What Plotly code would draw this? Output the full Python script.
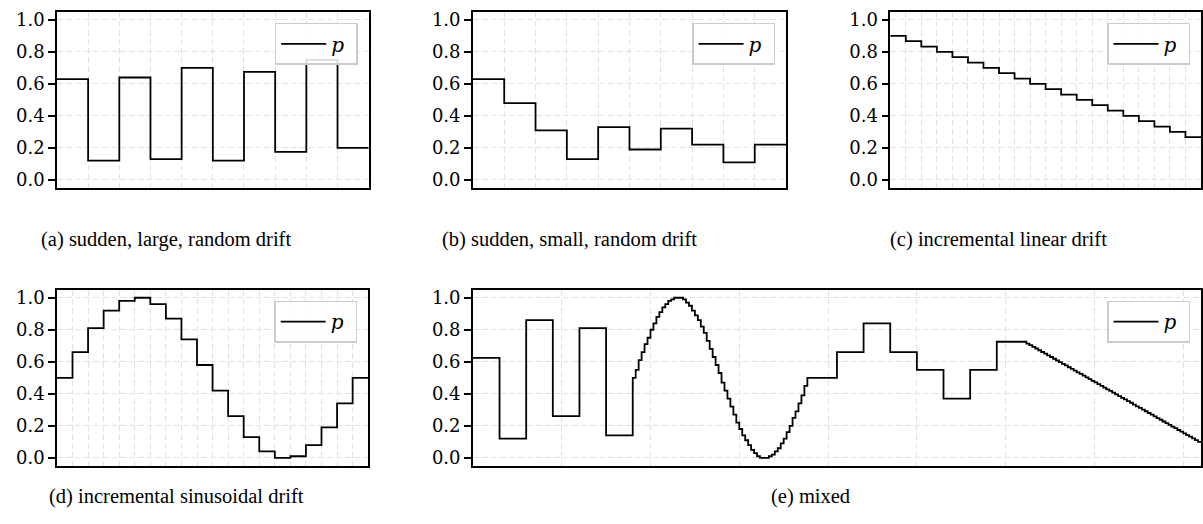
import numpy as np
import plotly.graph_objects as go

# ---------------- data ----------------
a_vals = [0.63, 0.12, 0.64, 0.13, 0.70, 0.12, 0.675, 0.175, 0.75, 0.20]
b_vals = [0.63, 0.48, 0.31, 0.13, 0.33, 0.19, 0.32, 0.22, 0.11, 0.22]
c_vals = [0.900, 0.867, 0.833, 0.800, 0.767, 0.733, 0.700, 0.667, 0.633, 0.600,
          0.567, 0.533, 0.500, 0.467, 0.433, 0.400, 0.367, 0.333, 0.300, 0.267]
d_vals = [0.50, 0.66, 0.81, 0.92, 0.98, 1.00, 0.96, 0.87, 0.74, 0.58,
          0.42, 0.26, 0.13, 0.04, 0.00, 0.01, 0.08, 0.19, 0.34, 0.50]

# mixed panel: pieces with their step durations
e_sudden1 = [0.625, 0.12, 0.86, 0.26, 0.81, 0.14]
e_sine = [0.50, 0.55, 0.61, 0.66, 0.71, 0.75, 0.80, 0.84, 0.88, 0.91,
          0.94, 0.96, 0.98, 0.99, 1.00, 1.00, 1.00, 0.99, 0.97, 0.95,
          0.92, 0.89, 0.86, 0.82, 0.78, 0.73, 0.68, 0.63, 0.58, 0.53,
          0.47, 0.42, 0.37, 0.32, 0.27, 0.22, 0.18, 0.14, 0.11, 0.08,
          0.05, 0.03, 0.01, 0.00, 0.00, 0.00, 0.01, 0.02, 0.04, 0.06,
          0.09, 0.12, 0.16, 0.20, 0.25, 0.29, 0.34, 0.39, 0.45, 0.50]
e_sudden2 = [0.50, 0.66, 0.84, 0.66, 0.55, 0.37, 0.55, 0.725]
e_linear = [0.725, 0.714, 0.704, 0.693, 0.683, 0.672, 0.661, 0.651, 0.640, 0.630,
            0.619, 0.608, 0.598, 0.587, 0.577, 0.566, 0.556, 0.545, 0.534, 0.524,
            0.513, 0.503, 0.492, 0.481, 0.471, 0.460, 0.450, 0.439, 0.428, 0.418,
            0.407, 0.397, 0.386, 0.375, 0.365, 0.354, 0.344, 0.333, 0.322, 0.312,
            0.301, 0.291, 0.280, 0.270, 0.259, 0.248, 0.238, 0.227, 0.217, 0.206,
            0.195, 0.185, 0.174, 0.164, 0.153, 0.142, 0.132, 0.121, 0.111, 0.100]
e_sudden_len = 300
e_small_len = 2000 / 60

captions = ["(a) sudden, large, random drift",
            "(b) sudden, small, random drift",
            "(c) incremental linear drift",
            "(d) incremental sinusoidal drift",
            "(e) mixed"]
y_ticks = [0.0, 0.2, 0.4, 0.6, 0.8, 1.0]

# ---------------- layout helpers ----------------
W, H = 1203, 524

def xdom(l, r):
    return [l / W, r / W]

def ydom(t, b):
    return [1 - b / H, 1 - t / H]

panels = [
    dict(x=xdom(57, 369), y=ydom(9, 186.7)),
    dict(x=xdom(473.3, 786.7), y=ydom(9, 186.7)),
    dict(x=xdom(891, 1202), y=ydom(9, 186.7)),
    dict(x=xdom(57, 368.5), y=ydom(289.5, 467.3)),
    dict(x=xdom(473.3, 1202), y=ydom(289.5, 467.3)),
]

def steps(vals, lens):
    x = np.concatenate([[0], np.cumsum(lens)])
    y = list(vals) + [vals[-1]]
    return x, y

series = []
for v in (a_vals, b_vals, c_vals, d_vals):
    series.append(steps(v, [1] * len(v)))
e_all = e_sudden1 + e_sine + e_sudden2 + e_linear
e_lens = ([e_sudden_len] * len(e_sudden1) + [e_small_len] * len(e_sine)
          + [e_sudden_len] * len(e_sudden2) + [e_small_len] * len(e_linear))
series.append(steps(e_all, e_lens))

fig = go.Figure()
tick_font = dict(family="DejaVu Serif", size=18, color="black")
grid_col = "#e2e2e2"
grid_dash = "6px,3px"

for i, ((x, y), p) in enumerate(zip(series, panels)):
    n = i + 1
    sfx = "" if n == 1 else str(n)
    leg = "legend" if n == 1 else f"legend{n}"
    fig.add_trace(go.Scatter(
        x=x, y=y, mode="lines", line=dict(color="black", width=1.8, shape="hv"),
        name="<i>p</i> ", xaxis=f"x{sfx}", yaxis=f"y{sfx}", legend=leg,
        showlegend=True, hoverinfo="skip"))
    xmax = x[-1]
    fig.layout[f"xaxis{sfx}"] = dict(
        domain=p["x"], anchor=f"y{sfx}", range=[0, xmax],
        tick0=0, dtick=(1000 if n == 5 else 1),
        showticklabels=False, ticks="", showgrid=True,
        gridcolor=grid_col, griddash=grid_dash, gridwidth=1,
        showline=True, linecolor="black", linewidth=1.5, mirror=True,
        zeroline=False, fixedrange=True)
    fig.layout[f"yaxis{sfx}"] = dict(
        domain=p["y"], anchor=f"x{sfx}", range=[-0.05, 1.05],
        tickvals=y_ticks, tickformat=".1f", ticks="outside", ticklen=7,
        tickwidth=1.5, tickcolor="black", tickfont=tick_font,
        showgrid=True, gridcolor=grid_col, griddash=grid_dash, gridwidth=1,
        showline=True, linecolor="black", linewidth=1.5, mirror=True,
        zeroline=False, fixedrange=True)
    # legend in top-right corner of each panel
    right_px = p["x"][1] * W - 11
    top_px = (1 - p["y"][1]) * H + 11
    fig.layout[leg] = dict(
        x=right_px / W, y=1 - top_px / H, xanchor="right", yanchor="top",
        xref="paper", yref="paper",
        bgcolor="rgba(255,255,255,0.85)", bordercolor="#cccccc", borderwidth=1.5,
        font=dict(family="DejaVu Serif", size=20, color="black"),
        itemwidth=45)

cap_pos = [(166.5, 239), (570, 239), (999, 239), (177, 498), (811, 498)]
for txt, (cx, cy) in zip(captions, cap_pos):
    fig.add_annotation(text=txt, x=cx / W, y=1 - cy / H, xref="paper", yref="paper",
                       showarrow=False, xanchor="center", yanchor="middle",
                       font=dict(family="Liberation Serif", size=20.5, color="black"))

fig.update_layout(width=W, height=H, margin=dict(l=0, r=0, t=0, b=0),
                  paper_bgcolor="white", plot_bgcolor="white")
fig.write_html("out.html")
